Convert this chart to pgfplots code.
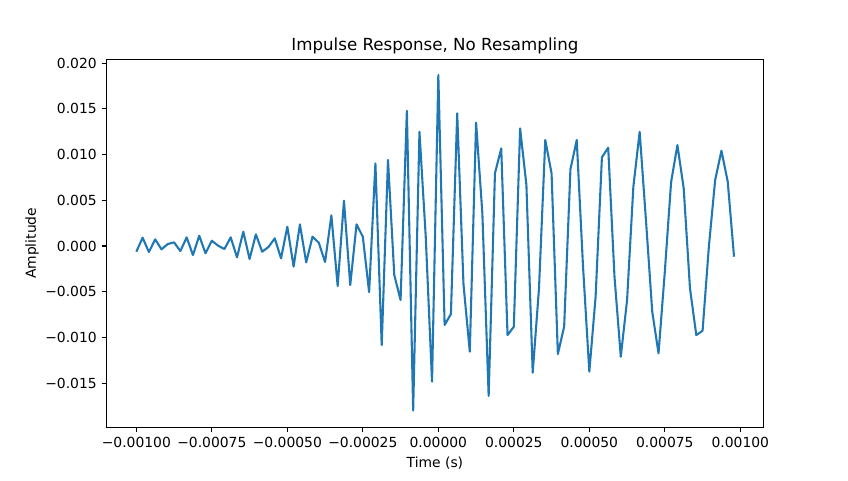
\documentclass[border=0pt]{standalone}
\usepackage{fontspec}
\setmainfont{DejaVu Sans}
\usepackage{pgfplots}
\pgfplotsset{compat=1.18}
\definecolor{mplblue}{HTML}{1F77B4}

% impulse response, 96 samples at 48 kHz
\pgfplotstableread{
t a
-0.001 -0.00062
-0.00097917 0.00091
-0.00095833 -0.00066
-0.0009375 0.00073
-0.00091667 -0.00036
-0.00089583 0.00022
-0.000875 0.00040
-0.00085417 -0.00055
-0.00083333 0.00095
-0.0008125 -0.00099
-0.00079167 0.00113
-0.00077083 -0.00080
-0.00075 0.00058
-0.00072917 0.00004
-0.00070833 -0.00033
-0.0006875 0.00095
-0.00066667 -0.00124
-0.00064583 0.00157
-0.000625 -0.00142
-0.00060417 0.00128
-0.00058333 -0.00062
-0.0005625 -0.00011
-0.00054167 0.00084
-0.00052083 -0.00135
-0.0005 0.00211
-0.00047917 -0.00226
-0.00045833 0.00237
-0.0004375 -0.00179
-0.00041667 0.00102
-0.00039583 0.00036
-0.000375 -0.00175
-0.00035417 0.00336
-0.00033333 -0.00438
-0.0003125 0.00496
-0.00029167 -0.00427
-0.00027083 0.00237
-0.00025 0.00102
-0.00022917 -0.00505
-0.00020833 0.00904
-0.0001875 -0.01083
-0.00016667 0.00941
-0.00014583 -0.00317
-0.000125 -0.00591
-0.00010417 0.01480
-0.000083333 -0.01800
-0.0000625 0.01250
-0.000041667 0.00102
-0.000020833 -0.01484
0 0.01870
0.000020833 -0.00864
0.000041667 -0.00744
0.0000625 0.01452
0.000083333 -0.00420
0.00010417 -0.01156
0.000125 0.01350
0.00014583 0.00357
0.00016667 -0.01641
0.0001875 0.00795
0.00020833 0.01068
0.00022917 -0.00974
0.00025 -0.00883
0.00027083 0.01287
0.00029167 0.00667
0.0003125 -0.01386
0.00033333 -0.00463
0.00035417 0.01160
0.000375 0.00795
0.00039583 -0.01182
0.00041667 -0.00880
0.0004375 0.00840
0.00045833 0.01160
0.00047917 -0.00226
0.0005 -0.01375
0.00052083 -0.00554
0.00054167 0.00970
0.0005625 0.01076
0.00058333 -0.00335
0.00060417 -0.01211
0.000625 -0.00591
0.00064583 0.00649
0.00066667 0.01250
0.0006875 0.00284
0.00070833 -0.00718
0.00072917 -0.01174
0.00075 -0.00280
0.00077083 0.00700
0.00079167 0.01105
0.0008125 0.00631
0.00083333 -0.00463
0.00085417 -0.00974
0.000875 -0.00927
0.00089583 -0.00007
0.00091667 0.00722
0.0009375 0.01043
0.00095833 0.00704
0.00097917 -0.00117
}\irdata

\begin{document}
\begin{tikzpicture}
\begin{axis}[
    scale only axis,
    width=472.9pt,
    height=265pt,
    xmin=-0.0010987, xmax=0.0010762,
    ymin=-0.01984, ymax=0.02043,
    axis line style={line width=0.8pt},
    tick align=outside,
    major tick length=3.5pt,
    tick style={black, line width=0.8pt},
    xtick pos=left, ytick pos=left,
    scaled x ticks=false, scaled y ticks=false,
    xtick={-0.001,-0.00075,-0.0005,-0.00025,0,0.00025,0.0005,0.00075,0.001},
    xticklabels={−0.00100,−0.00075,−0.00050,−0.00025,0.00000,0.00025,0.00050,0.00075,0.00100},
    ytick={-0.015,-0.01,-0.005,0,0.005,0.01,0.015,0.02},
    yticklabels={−0.015,−0.010,−0.005,0.000,0.005,0.010,0.015,0.020},
    tick label style={font=\fontsize{10}{12}\selectfont},
    title={Impulse Response, No Resampling},
    title style={font=\fontsize{12}{14}\selectfont, at={(axis description cs:0.5,1)}, anchor=center, yshift=3.8pt},
    xlabel={Time (s)},
    xlabel style={font=\fontsize{10}{12}\selectfont, at={(axis description cs:0.5,0)}, anchor=center, yshift=-25.7pt},
    ylabel={Amplitude},
    ylabel style={font=\fontsize{10}{12}\selectfont, at={(axis description cs:-0.1133,0.5)}, anchor=center},
]
\addplot[mplblue, line width=1.5pt, line join=round, mark=none] table[x=t, y=a] {\irdata};
\end{axis}
\pgfresetboundingbox
\path[use as bounding box] (current axis.south west) ++(-76.7pt,-37.9pt) rectangle ++(610.56pt,345.6pt);
\end{tikzpicture}
\end{document}
